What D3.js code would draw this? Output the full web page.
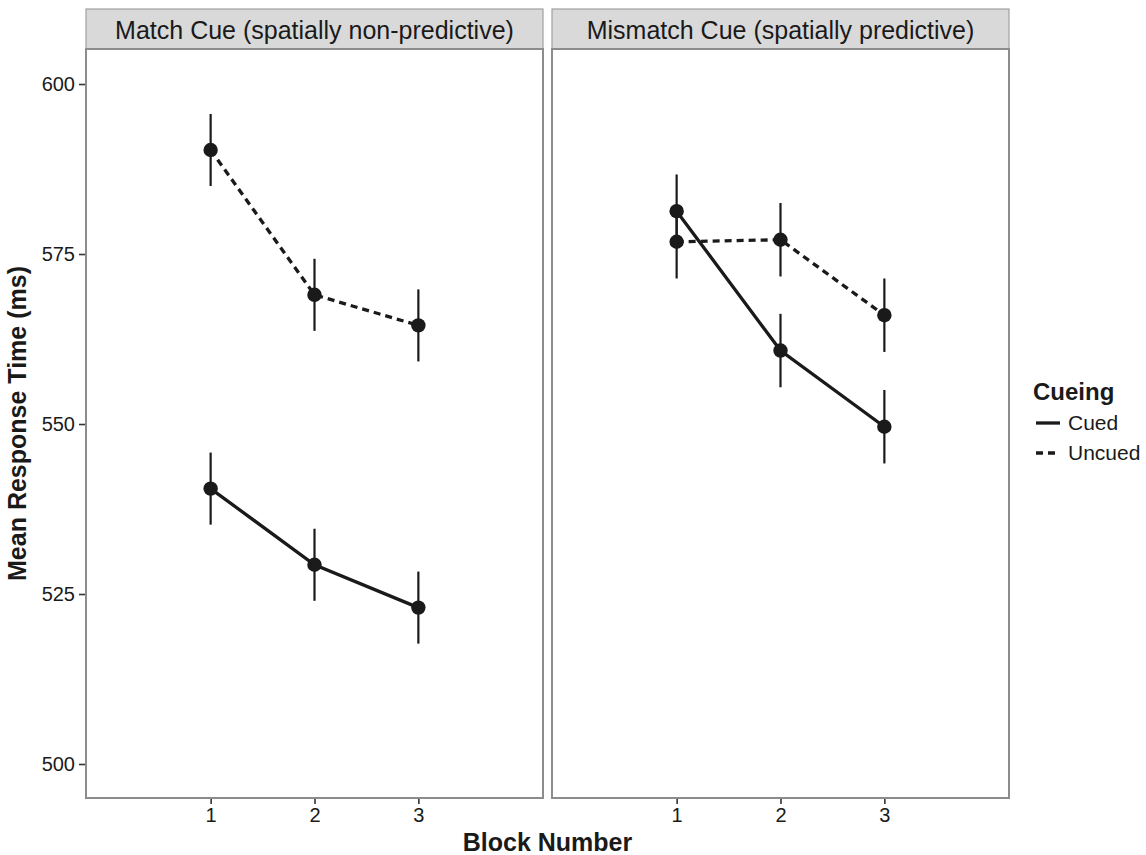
<!DOCTYPE html>
<meta charset="utf-8">
<script src="https://d3js.org/d3.v7.min.js"></script>
<style>
    body { margin: 0; background: #fff; }
    svg { font-family: "Liberation Sans", Arial, Helvetica, sans-serif; }
    .tick text { font-size: 20px; fill: #1a1a1a; }
    .tick line { stroke: #333; stroke-width: 1.6; }
    .domain { display: none; }
    .strip_text { font-size: 25px; fill: #1a1a1a; }
    .axis_title { font-size: 25px; font-weight: bold; fill: #1a1a1a; }
    .legend_title { font-size: 24px; font-weight: bold; fill: #1a1a1a; }
    .legend_text { font-size: 21px; fill: #1a1a1a; }
</style>
<div id="my_dataviz"></div>
<script>
// data
const panels = ["Match Cue (spatially non-predictive)", "Mismatch Cue (spatially predictive)"];
const blocks = [1, 2, 3];
const cueing = ["Cued", "Uncued"];

const matchCued = [540.5, 529.3, 523.0];
const matchUncued = [590.3, 569.0, 564.5];
const mismatchCued = [581.3, 560.8, 549.6];
const mismatchUncued = [576.8, 577.1, 566.0];

const matchCuedSE = [5.3, 5.3, 5.3];
const matchUncuedSE = [5.3, 5.3, 5.3];
const mismatchCuedSE = [5.4, 5.4, 5.4];
const mismatchUncuedSE = [5.4, 5.4, 5.4];

const yTicks = [500, 525, 550, 575, 600];

const series = [
    { panel: 0, cue: "Cued", values: matchCued, se: matchCuedSE },
    { panel: 0, cue: "Uncued", values: matchUncued, se: matchUncuedSE },
    { panel: 1, cue: "Cued", values: mismatchCued, se: mismatchCuedSE },
    { panel: 1, cue: "Uncued", values: mismatchUncued, se: mismatchUncuedSE }
];

const W = 1146, H = 855;
const panelLeft = [86, 552], panelWidth = 457;
const plotTop = 49, plotBottom = 798, stripTop = 9;
const ink = "#1a1a1a";
const dash = { "Cued": null, "Uncued": "7,5" };

const svg = d3.select("#my_dataviz").append("svg")
    .attr("width", W)
    .attr("height", H);

let y = d3.scaleLinear().domain([495, 605.15]).range([plotBottom, plotTop]);

let xScales = panelLeft.map(l => d3.scaleLinear().domain([-0.2, 4.2]).range([l, l + panelWidth]));

// panels + strips
panels.forEach((name, i) => {
    const l = panelLeft[i];
    svg.append("rect")
        .attr("x", l).attr("y", stripTop)
        .attr("width", panelWidth).attr("height", plotTop - stripTop)
        .attr("fill", "#d9d9d9").attr("stroke", "#a0a0a0").attr("stroke-width", 1.2);
    svg.append("text").attr("class", "strip_text")
        .attr("x", l + panelWidth / 2).attr("y", (stripTop + plotTop) / 2 + 1)
        .attr("dy", "0.35em").attr("text-anchor", "middle")
        .text(name);
    svg.append("rect")
        .attr("x", l).attr("y", plotTop)
        .attr("width", panelWidth).attr("height", plotBottom - plotTop)
        .attr("fill", "#fff").attr("stroke", "#8c8c8c").attr("stroke-width", 2);

    svg.append("g").attr("class", "x_axis")
        .attr("transform", "translate(0," + (plotBottom + 1) + ")")
        .call(d3.axisBottom(xScales[i]).tickValues(blocks).tickSize(5).tickPadding(4).tickFormat(d3.format("d")));
});

svg.append("g").attr("class", "y_axis")
    .attr("transform", "translate(" + (panelLeft[0] - 1) + ",0)")
    .call(d3.axisLeft(y).tickValues(yTicks).tickSize(6).tickPadding(4));

let line = d3.line();

series.forEach(s => {
    const x = xScales[s.panel];
    const pts = blocks.map((b, j) => [x(b), y(s.values[j])]);
    const g = svg.append("g");

    g.selectAll("line.err").data(blocks).enter().append("line")
        .attr("x1", d => x(d)).attr("x2", d => x(d))
        .attr("y1", (d, j) => y(s.values[j] + s.se[j]))
        .attr("y2", (d, j) => y(s.values[j] - s.se[j]))
        .attr("stroke", ink).attr("stroke-width", 2.2);

    g.append("path")
        .attr("d", line(pts))
        .attr("fill", "none").attr("stroke", ink).attr("stroke-width", 3.3)
        .attr("stroke-dasharray", dash[s.cue]);

    g.selectAll("circle").data(blocks).enter().append("circle")
        .attr("cx", d => x(d)).attr("cy", (d, j) => y(s.values[j]))
        .attr("r", 7.2).attr("fill", ink);
});

// axis titles
svg.append("text").attr("class", "axis_title")
    .attr("x", (panelLeft[0] + panelLeft[1] + panelWidth) / 2).attr("y", 842)
    .attr("dy", "0.35em").attr("text-anchor", "middle")
    .text("Block Number");

svg.append("text").attr("class", "axis_title")
    .attr("transform", "translate(17," + ((plotTop + plotBottom) / 2) + ") rotate(-90)")
    .attr("dy", "0.35em").attr("text-anchor", "middle")
    .text("Mean Response Time (ms)");

// legend
const legend = svg.append("g").attr("transform", "translate(1033,0)");
legend.append("text").attr("class", "legend_title")
    .attr("x", 0).attr("y", 392).attr("dy", "0.35em").text("Cueing");
cueing.forEach((c, i) => {
    const ly = 423 + i * 30;
    legend.append("line")
        .attr("x1", 3).attr("x2", 27).attr("y1", ly).attr("y2", ly)
        .attr("stroke", ink).attr("stroke-width", 3.3)
        .attr("stroke-dasharray", c === "Uncued" ? "7,5" : null);
    legend.append("text").attr("class", "legend_text")
        .attr("x", 35).attr("y", ly).attr("dy", "0.35em").text(c);
});
</script>
